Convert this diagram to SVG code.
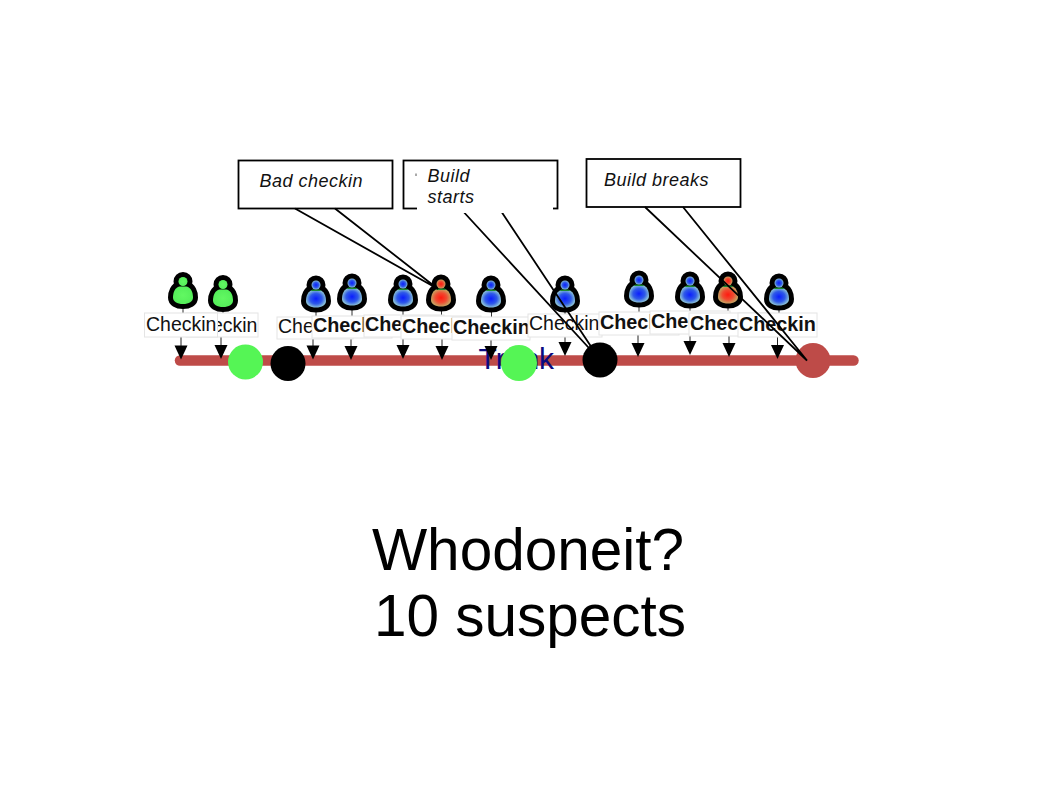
<svg xmlns="http://www.w3.org/2000/svg" xmlns:xlink="http://www.w3.org/1999/xlink" width="1058" height="793" viewBox="0 0 1058 793">
<style>
text{font-family:"Liberation Sans",Arial,sans-serif}
.box{fill:#fff;stroke:#e4e4e4;stroke-width:1}
.r{font-size:19.5px;fill:#111}
.b{font-size:19.8px;font-weight:bold;fill:#111}
.call{fill:#fff;stroke:#000;stroke-width:1.8}
.tail{fill:none;stroke:#000;stroke-width:1.8;stroke-linejoin:miter}
.ct{font-size:18px;font-style:italic;letter-spacing:.5px;fill:#111}
.stem{stroke:#333;stroke-width:1;fill:none}
.sil{fill:#000;stroke:#000;stroke-width:10;stroke-linejoin:round}
.title{font-size:58.5px;fill:#000;text-anchor:middle}
</style>
<defs>
<radialGradient id="gb"><stop offset="0" stop-color="#0a1eff"/><stop offset=".6" stop-color="#2f5ae8"/><stop offset="1" stop-color="#86bcd8"/></radialGradient>
<radialGradient id="gr"><stop offset="0" stop-color="#ff1a10"/><stop offset=".55" stop-color="#f04a30"/><stop offset="1" stop-color="#c8a060"/></radialGradient>
<radialGradient id="gg"><stop offset="0" stop-color="#62f862"/><stop offset="1" stop-color="#55ee5a"/></radialGradient>
<path id="bd" d="M-3.500,-4 C-8,-3 -10,2 -10,7 C-10,11 -6,13.500 0,13.500 C6,13.500 10,11 10,7 C10,2 8,-3 3.500,-4 Z"/>
<g id="sil"><circle cy="-9" r="4.500" class="sil"/><use xlink:href="#bd" class="sil"/></g>
<g id="pb"><use xlink:href="#sil"/><use xlink:href="#bd" fill="url(#gb)"/><path d="M-3.500,-4.500 H3.500 L5.500,-3 H-5.500Z" fill="#1c8a30"/><circle cy="-9" r="4.500" fill="url(#gb)"/></g>
<g id="pr"><use xlink:href="#sil"/><use xlink:href="#bd" fill="url(#gr)"/><path d="M-3.500,-4.500 H3.500 L5.500,-3 H-5.500Z" fill="#1c8a30"/><circle cy="-9" r="4.500" fill="url(#gr)"/></g>
<g id="pg"><use xlink:href="#sil"/><use xlink:href="#bd" fill="url(#gg)"/><circle cy="-9" r="4.500" fill="url(#gg)"/></g>
<g id="arr"><line y1="-23" y2="-12" stroke="#222" stroke-width="1"/><polygon points="-6.500,-14 6.500,-14 0,0" fill="#000"/></g>
</defs>

<g id="trunk">
<line x1="180" y1="360.500" x2="853.500" y2="360.500" stroke="#be4b48" stroke-width="10.500" stroke-linecap="round"/>
<text x="478.500" y="368.500" font-size="30" fill="#0a0a80">Trunk</text>
</g>

<g id="connectors">
<path class="stem" d="M183,306V314M223,309V314M316,309V318M352,307V318M403,308V318M441.500,308V318M491.500,309V318M565,309V316M639,304V314M690,305V314M728,305V314M779,307V314"/>
<use xlink:href="#arr" x="181" y="359.500"/>
<use xlink:href="#arr" x="221" y="359"/>
<use xlink:href="#arr" x="313" y="359.500"/>
<use xlink:href="#arr" x="351" y="360"/>
<use xlink:href="#arr" x="403" y="359"/>
<use xlink:href="#arr" x="442" y="360"/>
<use xlink:href="#arr" x="491" y="360"/>
<use xlink:href="#arr" x="565" y="356"/>
<use xlink:href="#arr" x="638" y="357"/>
<use xlink:href="#arr" x="690" y="355"/>
<use xlink:href="#arr" x="729" y="357"/>
<use xlink:href="#arr" x="777.500" y="359"/>
</g>

<g id="person-2"><use xlink:href="#pg" x="223" y="293.500"/><rect class="box" x="186" y="313" width="72" height="24"/><text class="r" x="187" y="332">Checkin</text></g>
<g id="person-1"><use xlink:href="#pg" x="183" y="290.500"/><rect class="box" x="144.500" y="313" width="73" height="24"/><text class="r" x="146" y="331">Checkin</text></g>
<g id="person-3"><use xlink:href="#pb" x="316" y="294"/><rect class="box" x="277" y="317" width="76" height="22"/><text class="r" x="278" y="333">Checkin</text></g>
<g id="person-4"><use xlink:href="#pb" x="352" y="292"/><rect class="box" x="312" y="316" width="80" height="22"/><text class="b" x="313" y="332">Checkin</text></g>
<g id="person-5"><use xlink:href="#pb" x="403" y="293"/><rect class="box" x="364" y="315" width="80" height="22"/><text class="b" x="365" y="331">Checkin</text></g>
<g id="person-6"><use xlink:href="#pr" x="441" y="293"/><rect class="box" x="401" y="316" width="80" height="23"/><text class="b" x="402" y="333">Checkin</text></g>
<g id="person-7"><use xlink:href="#pb" x="491" y="294"/><rect class="box" x="452" y="317" width="78" height="23"/><text class="b" x="453" y="334">Checkin</text></g>
<g id="person-8"><use xlink:href="#pb" x="565" y="294"/><rect class="box" x="528" y="314" width="74" height="23"/><text class="r" x="529" y="330">Checkin</text></g>
<g id="person-9"><use xlink:href="#pb" x="639" y="289"/><rect class="box" x="599" y="312" width="80" height="23"/><text class="b" x="600" y="329">Checkin</text></g>
<g id="person-10"><use xlink:href="#pb" x="690" y="290"/><rect class="box" x="650" y="311" width="80" height="23"/><text class="b" x="651" y="327.500">Checkin</text></g>
<g id="person-11"><use xlink:href="#pr" x="728" y="290"/><rect class="box" x="689" y="313" width="80" height="23"/><text class="b" x="690" y="330">Checkin</text></g>
<g id="person-12"><use xlink:href="#pb" x="779" y="292"/><rect class="box" x="738" y="313" width="79" height="24"/><text class="b" x="739" y="331">Checkin</text></g>

<g id="status-dots">
<circle cx="245.500" cy="362" r="17.500" fill="#55f555"/>
<circle cx="288" cy="363.500" r="17.500" fill="#000"/>
<circle cx="519" cy="363" r="18" fill="#55f555"/>
<circle cx="600" cy="360" r="17.500" fill="#000"/>
<circle cx="813" cy="360.500" r="17.500" fill="#be4b48"/>
</g>

<g id="callout-bad">
<rect class="call" x="238.500" y="160.500" width="154" height="48"/>
<path class="tail" d="M295,208.500L438,289L335,208.500"/>
<text class="ct" x="259.500" y="187">Bad checkin</text>
</g>
<g id="callout-starts">
<rect class="call" x="403.500" y="160.500" width="154" height="48"/>
<path class="tail" d="M460,208L600,360L499,208"/>
<rect x="417" y="162" width="136" height="51" fill="#fff"/>
<path d="M416,173.500V176" stroke="#555" stroke-width="1"/>
<text class="ct" x="427.500" y="182">Build</text>
<text class="ct" x="427.500" y="202.500">starts</text>
</g>
<g id="callout-breaks">
<rect class="call" x="586.500" y="159" width="154" height="48"/>
<path class="tail" d="M645,207L807,360.500L683,207"/>
<text class="ct" x="604" y="186">Build breaks</text>
</g>

<g id="title">
<text class="title" x="528" y="570">Whodoneit?</text>
<text class="title" x="530" y="636">10 suspects</text>
</g>
</svg>
